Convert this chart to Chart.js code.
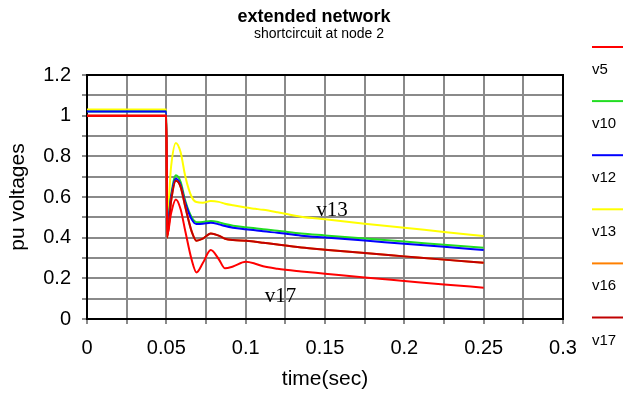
<!DOCTYPE html>
<html>
<head>
<meta charset="utf-8">
<script src="https://cdn.jsdelivr.net/npm/chart.js@4/dist/chart.umd.min.js"></script>
<style>
html,body{margin:0;padding:0;background:#fff;}
#wrap{width:623px;height:398px;position:relative;}
</style>
</head>
<body>
<div id="wrap"><canvas id="c" width="623" height="398"></canvas></div>
<script>
const times = [0, 0.05, 0.0505, 0.053, 0.056, 0.059, 0.062, 0.066, 0.069, 0.073, 0.078, 0.083, 0.087, 0.092, 0.1, 0.106, 0.111, 0.12, 0.135, 0.15, 0.175, 0.2, 0.225, 0.25];
const v5  = [1.0,1.0,0.41,0.52,0.588,0.54,0.43,0.29,0.229,0.275,0.339,0.295,0.249,0.258,0.281,0.272,0.259,0.247,0.234,0.223,0.204,0.187,0.17,0.154];
const v10 = [1.02,1.02,0.46,0.61,0.707,0.675,0.58,0.5,0.476,0.477,0.482,0.476,0.467,0.459,0.451,0.446,0.441,0.434,0.42,0.411,0.396,0.381,0.365,0.35];
const v12 = [1.02,1.02,0.45,0.6,0.69,0.66,0.57,0.49,0.467,0.468,0.473,0.466,0.457,0.449,0.441,0.436,0.431,0.424,0.41,0.401,0.386,0.37,0.355,0.339];
const v13 = [1.03,1.03,0.5,0.75,0.866,0.82,0.70,0.6,0.575,0.572,0.58,0.576,0.567,0.559,0.548,0.542,0.537,0.525,0.503,0.49,0.469,0.449,0.428,0.408];
const v16 = [1.0,1.0,0.40,0.58,0.68,0.65,0.55,0.43,0.385,0.395,0.42,0.41,0.395,0.388,0.385,0.38,0.375,0.366,0.352,0.341,0.324,0.308,0.292,0.277];
const v17 = [1.0,1.0,0.40,0.58,0.68,0.65,0.55,0.43,0.385,0.395,0.42,0.41,0.395,0.388,0.385,0.38,0.375,0.366,0.352,0.341,0.324,0.308,0.292,0.277];
const seriesNames = ['v5','v10','v12','v13','v16','v17'];
const xTicks = [0,0.025,0.05,0.075,0.1,0.125,0.15,0.175,0.2,0.225,0.25,0.275,0.3];
const xTickLabels = ['0','','0.05','','0.1','','0.15','','0.2','','0.25','','0.3'];
const yTicks = [0,0.1,0.2,0.3,0.4,0.5,0.6,0.7,0.8,0.9,1.0,1.1,1.2];
const yTickLabels = ['0','','0.2','','0.4','','0.6','','0.8','','1','','1.2'];
const titleText = 'extended network';
const subtitleText = 'shortcircuit at node 2';
const xTitle = 'time(sec)';
const yTitle = 'pu voltages';
const annotations = [{text:'v13', x:0.1445, y:0.506}, {text:'v17', x:0.112, y:0.082}];

const colors = ['#ff0000','#22dd22','#0000ff','#ffff00','#ff8000','#c00000'];
const orders = [1,5,4,6,3,2];
const allSeries = [v5,v10,v12,v13,v16,v17];

const datasets = allSeries.map((s,i)=>({
  label: seriesNames[i],
  data: times.map((t,j)=>({x:t,y:s[j]})),
  borderColor: colors[i],
  backgroundColor: colors[i],
  borderWidth: 2,
  pointRadius: 0,
  cubicInterpolationMode: 'monotone',
  order: orders[i],
  fill: false
}));

const extras = {
  id: 'extras',
  beforeDatasetsDraw(chart){
    const {ctx, chartArea:a} = chart;
    ctx.save();
    ctx.strokeStyle = '#000';
    ctx.lineWidth = 2;
    ctx.strokeRect(a.left, a.top, a.right-a.left, a.bottom-a.top);
    ctx.restore();
  },
  afterDraw(chart){
    const {ctx} = chart;
    const xs = chart.scales.x, ys = chart.scales.y;
    ctx.save();
    ctx.fillStyle = '#000';
    ctx.textAlign = 'center';
    ctx.textBaseline = 'alphabetic';
    ctx.font = 'bold 18px "Liberation Sans", Arial, sans-serif';
    ctx.fillText(titleText, 314, 22);
    ctx.font = '14px "Liberation Sans", Arial, sans-serif';
    ctx.fillText(subtitleText, 319, 38);
    ctx.textAlign = 'left';
    ctx.font = '21px "Liberation Serif", "Times New Roman", serif';
    annotations.forEach(a=>{
      ctx.fillText(a.text, xs.getPixelForValue(a.x), ys.getPixelForValue(a.y));
    });
    ctx.font = '15px "Liberation Sans", Arial, sans-serif';
    chart.data.datasets.forEach((d,i)=>{
      const ly = 47 + i*54.1;
      ctx.strokeStyle = d.borderColor;
      ctx.lineWidth = 2;
      ctx.beginPath();
      ctx.moveTo(592, ly);
      ctx.lineTo(623, ly);
      ctx.stroke();
      ctx.fillText(d.label, 592, ly + 27);
    });
    ctx.restore();
  }
};

new Chart(document.getElementById('c'), {
  type: 'line',
  data: { datasets },
  options: {
    responsive: false,
    animation: false,
    devicePixelRatio: 1,
    layout: { padding: { left: 0, right: 60, top: 75, bottom: 0 } },
    plugins: { legend: { display: false }, tooltip: { enabled: false } },
    scales: {
      x: {
        type: 'linear', min: 0, max: 0.3,
        afterFit(s){ s.height = 79; },
        afterBuildTicks(s){ s.ticks = xTicks.map(v=>({value:v})); },
        ticks: {
          autoSkip: false, maxRotation: 0, padding: 12,
          color: '#000',
          font: { family: '"Liberation Sans", Arial, sans-serif', size: 20 },
          callback: (v, i) => xTickLabels[i]
        },
        grid: { color: '#8a8a8a', lineWidth: 2, tickLength: 5 },
        border: { color: '#000', width: 2 },
        title: { display: true, text: xTitle, color: '#000',
          font: { family: '"Liberation Sans", Arial, sans-serif', size: 21 },
          padding: { top: 0, bottom: 6 } }
      },
      y: {
        type: 'linear', min: 0, max: 1.2,
        afterFit(s){ s.width = 87; },
        afterBuildTicks(s){ s.ticks = yTicks.map(v=>({value:v})); },
        ticks: {
          autoSkip: false, padding: 11,
          color: '#000',
          font: { family: '"Liberation Sans", Arial, sans-serif', size: 20 },
          callback: (v, i) => yTickLabels[i]
        },
        grid: { color: '#8a8a8a', lineWidth: 2, tickLength: 5 },
        border: { color: '#000', width: 2 },
        title: { display: true, text: yTitle, color: '#000',
          font: { family: '"Liberation Sans", Arial, sans-serif', size: 21 },
          padding: { top: 6, bottom: 0 } }
      }
    }
  },
  plugins: [extras]
});
</script>
</body>
</html>
